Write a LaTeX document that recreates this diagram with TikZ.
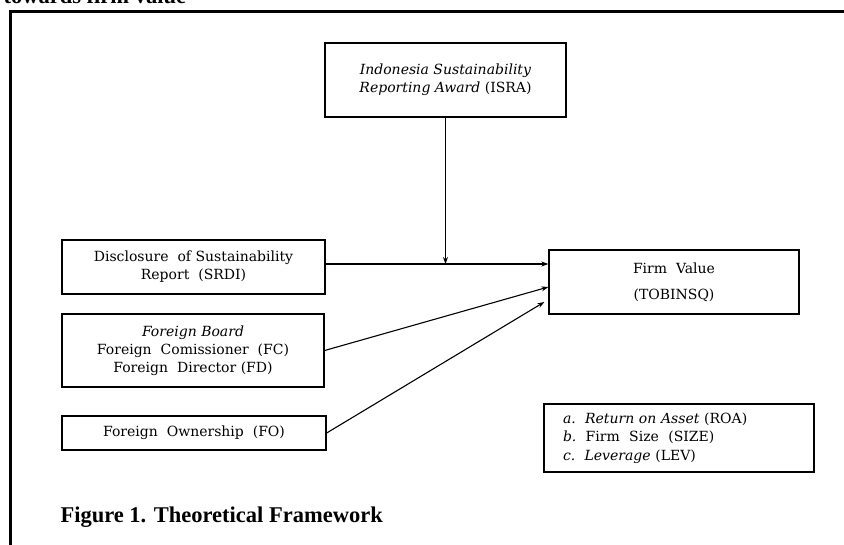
\documentclass[tikz,border=0pt]{standalone}
\usepackage{fontspec}
\setmainfont{DejaVu Serif}
\newfontfamily\capfont{Liberation Serif}
\usetikzlibrary{arrows.meta}
\tikzset{
  box/.style={draw,line width=1.3pt,inner sep=0pt,align=center,
    font=\fontsize{14}{18}\selectfont},
  arr/.style={line width=1.1pt,-{Stealth[length=7pt,width=5pt]}}
}
\begin{document}
\begin{tikzpicture}[x=1pt,y=-1pt]
\useasboundingbox (0,0) rectangle (844,544);
\node[anchor=base west,font=\capfont\bfseries\fontsize{22.5}{26}\selectfont] (title) at (0,3) {towards firm value};
\draw[line width=3pt] (10,550) -- (10,11) -- (850,11);
%%%%
\node[box,minimum width=241pt,minimum height=74pt] (isra) at (445.5,80)
  {\textit{Indonesia Sustainability}\\ \textit{Reporting Award} (ISRA)};
\node[box,minimum width=263pt,minimum height=54pt] (srdi) at (193.5,267)
  {Disclosure\ \ of Sustainability\\ Report\ \ (SRDI)};
\node[box,minimum width=262pt,minimum height=73pt] (fb) at (193,350.5)
  {\textit{Foreign Board}\\ Foreign\ \ Comissioner\ \ (FC)\\ Foreign\ \ Director (FD)};
\node[box,minimum width=264pt,minimum height=34pt] (fo) at (194,433)
  {Foreign\ \ Ownership\ \ (FO)};
\node[box,minimum width=250pt,minimum height=64pt,font=\fontsize{14}{26}\selectfont] (firm) at (674,282)
  {Firm\ \ Value\\ (TOBINSQ)};
\node[box,minimum width=270pt,minimum height=68pt,align=left,text width=232pt,font=\fontsize{14}{18.5}\selectfont] (ctrl) at (679,438)
  {\textit{a.\ \ Return on Asset} (ROA)\\ \textit{b.}\ \ Firm\ \ Size\ \ (SIZE)\\ \textit{c.\ \ Leverage} (LEV)};
%%%%
\coordinate (join) at (isra.south |- 0,264);
\draw[arr] ([yshift=3pt]srdi.east) -- ([yshift=18pt]firm.west);
\draw[arr] (isra.south) -- (join);
\draw[arr] (fb.east) -- ([yshift=-5pt]firm.west);
\draw[arr] (fo.east) -- ([xshift=-4pt,yshift=-20pt]firm.west);
\node[anchor=base west,font=\capfont\bfseries\fontsize{22.5}{26}\selectfont] (caption) at (57,522) {Figure 1. Theoretical Framework};
\end{tikzpicture}
\end{document}
